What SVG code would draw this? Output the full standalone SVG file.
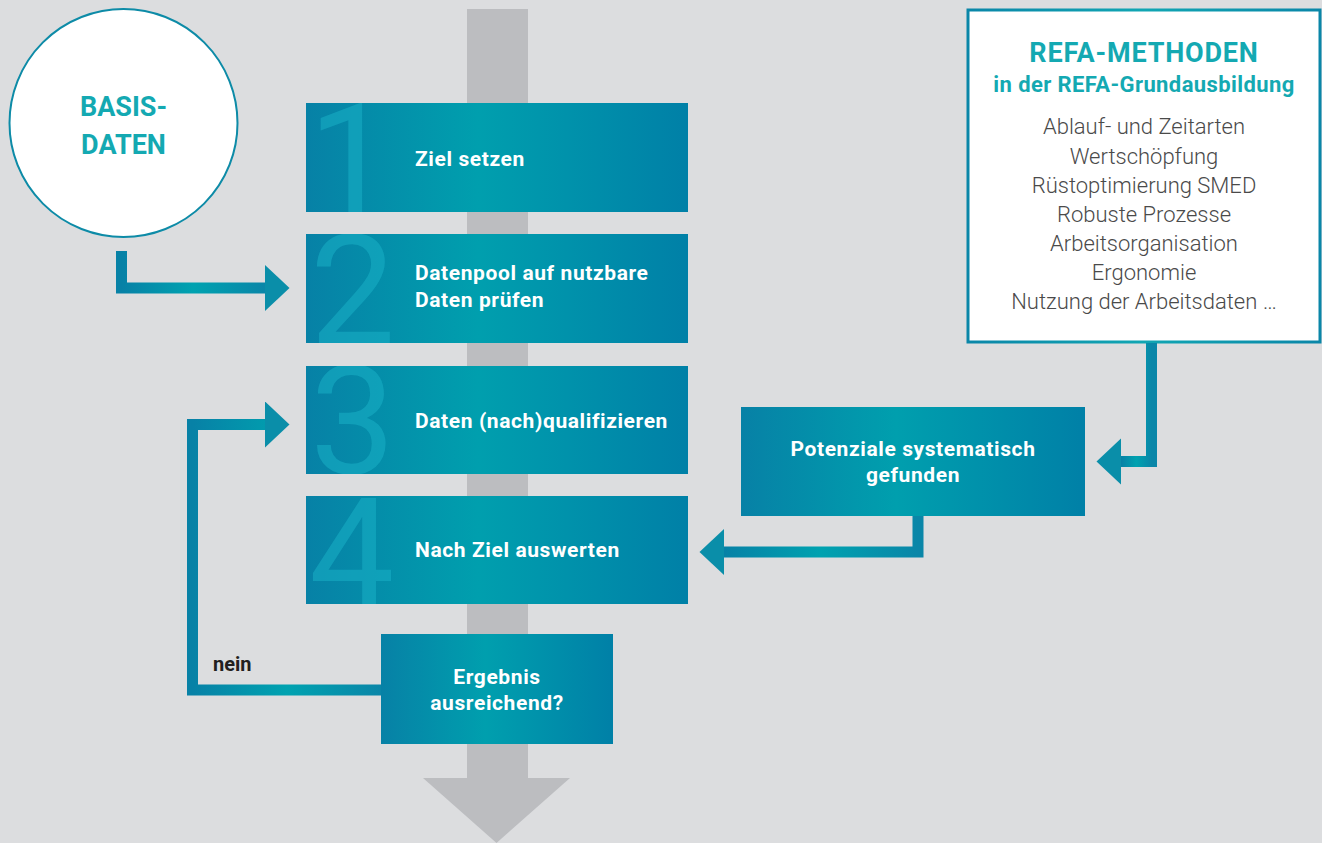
<svg xmlns="http://www.w3.org/2000/svg" width="1322" height="843" viewBox="0 0 1322 843">
<defs>
<linearGradient id="gBox" x1="0" y1="0" x2="1" y2="0">
<stop offset="0" stop-color="#0781a6"/>
<stop offset="0.45" stop-color="#009fae"/>
<stop offset="1" stop-color="#0080a7"/>
</linearGradient>
<linearGradient id="gLine" x1="0" y1="0" x2="1" y2="0">
<stop offset="0" stop-color="#0781a6"/>
<stop offset="0.5" stop-color="#00a2b0"/>
<stop offset="1" stop-color="#0a86a8"/>
</linearGradient>
<linearGradient id="gBorder" x1="0" y1="0" x2="1" y2="0">
<stop offset="0" stop-color="#0a86a8"/>
<stop offset="0.5" stop-color="#11a6b3"/>
<stop offset="1" stop-color="#0a86a8"/>
</linearGradient>
<marker id="ah" markerUnits="userSpaceOnUse" markerWidth="26" markerHeight="48" refX="0" refY="23" orient="auto" viewBox="0 0 26 48">
<path d="M0,0 L24.5,23 L0,46 Z" fill="#0a8ea9"/>
</marker>
<clipPath id="c1"><rect x="306" y="103" width="382" height="109"/></clipPath>
<clipPath id="c2"><rect x="306" y="234" width="382" height="109"/></clipPath>
<clipPath id="c3"><rect x="306" y="366" width="382" height="108"/></clipPath>
<clipPath id="c4"><rect x="306" y="496" width="382" height="108"/></clipPath>
</defs>
<style>
.box{fill:url(#gBox)}
.num{font-family:Roboto,"Liberation Sans",sans-serif;font-size:152px;font-weight:400;fill:#1ab1c6;fill-opacity:0.55}
.lbl{font-family:Roboto,"Liberation Sans",sans-serif;font-size:21px;font-weight:700;fill:#ffffff;letter-spacing:0.6px}
.teal{font-family:Roboto,"Liberation Sans",sans-serif;font-weight:700;fill:#14a9b2}
.item{font-family:Roboto,"Liberation Sans",sans-serif;font-size:22px;font-weight:300;fill:#4a4a4a;text-anchor:middle}
.conn{fill:none;stroke:url(#gLine);stroke-width:11;stroke-linejoin:miter;marker-end:url(#ah)}
</style>
<rect x="0" y="0" width="1322" height="843" fill="#dcdddf"/>
<g id="flow-axis">
<rect x="467" y="9" width="61" height="770" fill="#bcbdc0"/>
<polygon points="423,778 570,778 496.5,843" fill="#bcbdc0"/>
</g>
<g id="basisdaten">
<circle cx="123.5" cy="123" r="114" fill="#ffffff" stroke="#0d8ba7" stroke-width="2"/>
<text class="teal" x="123.5" y="116" font-size="27" text-anchor="middle">BASIS-</text>
<text class="teal" x="123.5" y="154" font-size="27" text-anchor="middle">DATEN</text>
</g>
<g id="step1">
<rect class="box" x="306" y="103" width="382" height="109"/>
<text class="num" x="308" y="212" clip-path="url(#c1)">1</text>
<text class="lbl" x="415" y="166">Ziel setzen</text>
</g>
<g id="step2">
<rect class="box" x="306" y="234" width="382" height="109"/>
<text class="num" x="310" y="343" clip-path="url(#c2)">2</text>
<text class="lbl" x="415" y="280">Datenpool auf nutzbare</text>
<text class="lbl" x="415" y="307">Daten prüfen</text>
</g>
<g id="step3">
<rect class="box" x="306" y="366" width="382" height="108"/>
<text class="num" x="310" y="474" clip-path="url(#c3)">3</text>
<text class="lbl" x="415" y="428">Daten (nach)qualifizieren</text>
</g>
<g id="step4">
<rect class="box" x="306" y="496" width="382" height="108"/>
<text class="num" x="309" y="606" clip-path="url(#c4)">4</text>
<text class="lbl" x="415" y="557">Nach Ziel auswerten</text>
</g>
<g id="ergebnis">
<rect class="box" x="381" y="634" width="232" height="110"/>
<text class="lbl" x="497" y="684" text-anchor="middle">Ergebnis</text>
<text class="lbl" x="497" y="710" text-anchor="middle">ausreichend?</text>
</g>
<g id="potenziale">
<rect class="box" x="741" y="407" width="344" height="109"/>
<text class="lbl" x="913" y="456" text-anchor="middle">Potenziale systematisch</text>
<text class="lbl" x="913" y="482" text-anchor="middle">gefunden</text>
</g>
<g id="refa-methoden">
<rect x="968" y="10" width="352" height="332" fill="#ffffff" stroke="url(#gBorder)" stroke-width="3"/>
<text class="teal" x="1144" y="62" font-size="27" text-anchor="middle" letter-spacing="0.8">REFA-METHODEN</text>
<text class="teal" x="1144" y="92" font-size="22" text-anchor="middle" letter-spacing="0.4">in der REFA-Grundausbildung</text>
<text class="item" x="1144" y="134">Ablauf- und Zeitarten</text>
<text class="item" x="1144" y="164">Wertschöpfung</text>
<text class="item" x="1144" y="193">Rüstoptimierung SMED</text>
<text class="item" x="1144" y="222">Robuste Prozesse</text>
<text class="item" x="1144" y="251">Arbeitsorganisation</text>
<text class="item" x="1144" y="280">Ergonomie</text>
<text class="item" x="1144" y="309">Nutzung der Arbeitsdaten …</text>
</g>
<g id="connectors">
<path class="conn" d="M121.5,251 V288 H265"/>
<path class="conn" d="M381,690 H192.5 V424.5 H265"/>
<path class="conn" d="M918,516 V552 H724"/>
<path class="conn" d="M1151.5,343 V461.5 H1121"/>
<text x="213" y="671" font-family="Roboto,'Liberation Sans',sans-serif" font-size="20" font-weight="700" fill="#231f20">nein</text>
</g>
</svg>
